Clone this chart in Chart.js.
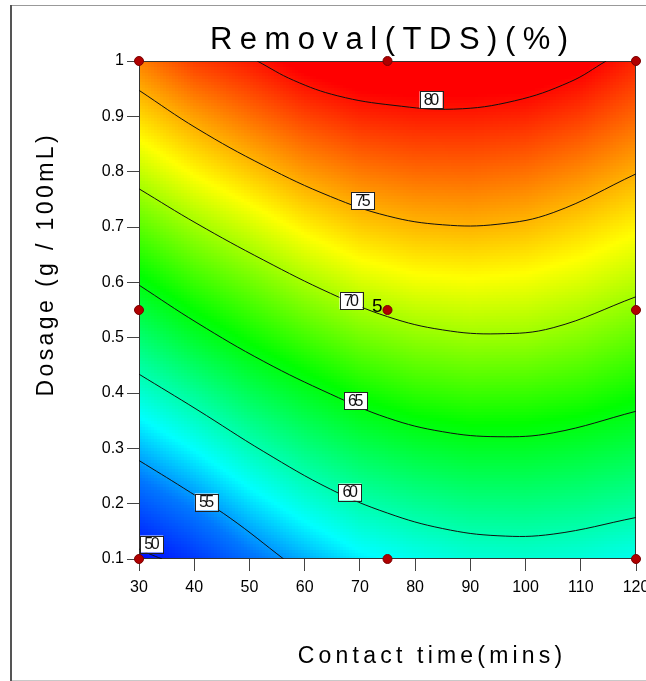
<!DOCTYPE html>
<html>
<head>
<meta charset="utf-8">
<script src="https://cdn.jsdelivr.net/npm/chart.js@4.4.1/dist/chart.umd.min.js"></script>
<style>
  body { margin: 0; background: #fff; }
</style>
</head>
<body>
<canvas id="tdsChart" width="646" height="681"></canvas>
<script>
// grid the surface was read on: contact time (mins) x dosage (g/100mL)
const timeGrid = [30, 40, 50, 60, 70, 80, 90, 100, 110, 120];
const dosageGrid = [0.1, 0.2, 0.3, 0.4, 0.5, 0.6, 0.7, 0.8, 0.9, 1.0];
// removal (%), one row per dosage, bottom row first
const removalGrid = [
  [49.4, 51.3, 53.6, 55.4, 57.1, 58.0, 58.7, 58.9, 58.6, 58.0],
  [52.6, 54.4, 56.6, 58.5, 60.0, 60.9, 61.5, 61.6, 61.3, 60.7],
  [55.7, 57.6, 59.7, 61.5, 62.9, 63.8, 64.3, 64.3, 63.9, 63.3],
  [58.9, 60.8, 62.8, 64.4, 65.8, 66.7, 67.1, 67.0, 66.6, 65.8],
  [62.0, 64.1, 65.8, 67.3, 68.6, 69.4, 69.8, 69.7, 69.1, 68.2],
  [65.1, 67.0, 68.5, 70.1, 71.4, 72.1, 72.3, 72.1, 71.5, 70.6],
  [68.0, 69.8, 71.3, 72.9, 74.1, 74.7, 74.9, 74.6, 73.8, 72.8],
  [70.9, 72.7, 74.2, 75.7, 76.7, 77.2, 77.3, 77.0, 76.2, 75.1],
  [73.7, 75.5, 77.0, 78.4, 79.3, 79.6, 79.6, 79.4, 78.6, 77.3],
  [76.5, 78.6, 79.7, 81.1, 81.9, 82.1, 82.0, 81.9, 81.0, 79.4]
];

const xTickLabels = ['30', '40', '50', '60', '70', '80', '90', '100', '110', '120'];
const yTickLabels = ['0.1', '0.2', '0.3', '0.4', '0.5', '0.6', '0.7', '0.8', '0.9', '1'];

// contour lines, [time, dosage] points
const contourLevels = [50, 55, 60, 65, 70, 75, 80];
const contour50 = [[30, 0.118], [31.7, 0.11], [34.2, 0.1]];
const contour55 = [[30, 0.278], [38.1, 0.228], [46.5, 0.174], [56.2, 0.1]];
const contour60 = [[30, 0.434], [40.5, 0.370], [52.6, 0.294], [64.7, 0.226], [75, 0.183], [85, 0.155], [95, 0.142], [105, 0.145], [120, 0.175]];
const contour65 = [[30, 0.595], [40.5, 0.527], [52.6, 0.457], [64.7, 0.398], [75, 0.355], [85, 0.330], [95, 0.321], [105, 0.328], [120, 0.367]];
const contour70 = [[30, 0.769], [40.5, 0.706], [52.6, 0.640], [64.7, 0.580], [75, 0.538], [85, 0.514], [95, 0.507], [105, 0.518], [120, 0.574]];
const contour75 = [[30, 0.947], [40.5, 0.878], [52.6, 0.811], [64.7, 0.755], [75, 0.720], [85, 0.704], [95, 0.705], [105, 0.726], [120, 0.796]];
const contour80 = [[51.4, 1.0], [58, 0.965], [66, 0.937], [76, 0.920], [87, 0.913], [98, 0.928], [108, 0.962], [114.6, 1.0]];
const contourLines = [contour50, contour55, contour60, contour65, contour70, contour75, contour80];

// where each level's label box sits
const labelTime = [32.3, 42.2, 68.2, 69.2, 68.4, 70.5, 82.9];
const labelDosage = [0.127, 0.203, 0.221, 0.386, 0.567, 0.748, 0.930];

// design points (red dots), centre point run 5 times
const designTime = [30, 75, 120, 30, 75, 120, 30, 75, 120];
const designDosage = [0.1, 0.1, 0.1, 0.55, 0.55, 0.55, 1, 1, 1];
const centreTime = 75;
const centreDosage = 0.55;
const centreRuns = 5;

const FONT = '"Liberation Sans", Arial, sans-serif';

// blue -> cyan -> green -> yellow -> red
const colourStops = [
  [49, [0, 0, 255]],
  [54, [0, 120, 255]],
  [57.5, [0, 255, 255]],
  [65.5, [0, 255, 0]],
  [72.5, [255, 255, 0]],
  [80.5, [255, 0, 0]]
];

function colourFor(v) {
  if (v <= colourStops[0][0]) return colourStops[0][1];
  for (let i = 1; i < colourStops.length; i++) {
    if (v <= colourStops[i][0]) {
      const [v0, c0] = colourStops[i - 1];
      const [v1, c1] = colourStops[i];
      const f = (v - v0) / (v1 - v0);
      return [0, 1, 2].map(k => Math.round(c0[k] + (c1[k] - c0[k]) * f));
    }
  }
  return colourStops[colourStops.length - 1][1];
}

function findCell(arr, v) {
  let i = 0;
  while (i < arr.length - 2 && v > arr[i + 1]) i++;
  const f = Math.min(1, Math.max(0, (v - arr[i]) / (arr[i + 1] - arr[i])));
  return [i, f];
}

function removalAt(t, d) {
  const [i, fx] = findCell(timeGrid, t);
  const [j, fy] = findCell(dosageGrid, d);
  const a = removalGrid[j][i], b = removalGrid[j][i + 1];
  const c = removalGrid[j + 1][i], e = removalGrid[j + 1][i + 1];
  return (a * (1 - fx) + b * fx) * (1 - fy) + (c * (1 - fx) + e * fx) * fy;
}

const pagePlugin = {
  id: 'page',
  beforeDraw(chart) {
    const ctx = chart.ctx;
    ctx.save();
    ctx.fillStyle = '#fff';
    ctx.fillRect(0, 0, chart.width, chart.height);
    ctx.strokeStyle = '#999';
    ctx.lineWidth = 1;
    ctx.beginPath();
    ctx.moveTo(10, 5.5); ctx.lineTo(chart.width, 5.5);
    ctx.stroke();
    ctx.strokeStyle = '#c8c8c8';
    ctx.beginPath();
    ctx.moveTo(10, 680.5); ctx.lineTo(chart.width, 680.5);
    ctx.stroke();
    ctx.strokeStyle = '#555';
    ctx.lineWidth = 2;
    ctx.beginPath();
    ctx.moveTo(11, 5); ctx.lineTo(11, 681);
    ctx.stroke();
    ctx.restore();
  },
  afterDraw(chart) {
    const ctx = chart.ctx;
    const spaced = (text, cx, base, size, gap) => {
      ctx.font = size + 'px ' + FONT;
      ctx.letterSpacing = '0px';
      const w = ctx.measureText(text).width + gap * (text.length - 1);
      ctx.letterSpacing = gap + 'px';
      ctx.textAlign = 'left';
      ctx.textBaseline = 'alphabetic';
      ctx.fillText(text, cx - w / 2, base);
    };
    ctx.save();
    ctx.fillStyle = '#000';
    spaced('Removal(TDS)(%)', 389, 49, 31, 7.5);
    spaced('Contact time(mins)', 430, 663, 23, 4.2);
    ctx.translate(53, 266);
    ctx.rotate(-Math.PI / 2);
    spaced('Dosage (g / 100mL)', 0, 0, 23, 3.4);
    ctx.restore();
  }
};

const surfacePlugin = {
  id: 'surface',
  beforeDatasetsDraw(chart) {
    const { ctx, chartArea: a, scales: { x, y } } = chart;
    const cell = 3;
    const cols = Math.ceil((a.right - a.left) / cell);
    const rows = Math.ceil((a.bottom - a.top) / cell);
    const off = document.createElement('canvas');
    off.width = cols;
    off.height = rows;
    const octx = off.getContext('2d');
    const img = octx.createImageData(cols, rows);
    for (let r = 0; r < rows; r++) {
      const d = y.getValueForPixel(a.top + (r + 0.5) * cell);
      for (let c = 0; c < cols; c++) {
        const t = x.getValueForPixel(a.left + (c + 0.5) * cell);
        const rgb = colourFor(removalAt(t, d));
        const k = (r * cols + c) * 4;
        img.data[k] = rgb[0];
        img.data[k + 1] = rgb[1];
        img.data[k + 2] = rgb[2];
        img.data[k + 3] = 255;
      }
    }
    octx.putImageData(img, 0, 0);
    ctx.save();
    ctx.beginPath();
    ctx.rect(a.left, a.top, a.right - a.left, a.bottom - a.top);
    ctx.clip();
    ctx.imageSmoothingEnabled = false;
    ctx.drawImage(off, a.left, a.top, cols * cell, rows * cell);
    ctx.restore();
    ctx.save();
    ctx.strokeStyle = '#333';
    ctx.lineWidth = 1;
    ctx.strokeRect(a.left + 0.5, a.top + 0.5, a.right - a.left - 1, a.bottom - a.top - 1);
    ctx.restore();
  },
  afterDatasetsDraw(chart) {
    const { ctx, scales: { x, y } } = chart;
    ctx.save();
    ctx.font = '16px ' + FONT;
    ctx.letterSpacing = '-2.5px';
    ctx.textAlign = 'center';
    ctx.textBaseline = 'middle';
    contourLevels.forEach((lvl, i) => {
      const px = x.getPixelForValue(labelTime[i]);
      const py = y.getPixelForValue(labelDosage[i]);
      ctx.fillStyle = '#fff';
      ctx.fillRect(px - 11.5, py - 8.5, 23, 17);
      ctx.strokeStyle = '#222';
      ctx.lineWidth = 1;
      ctx.strokeRect(Math.round(px - 11.5) + 0.5, Math.round(py - 8.5) + 0.5, 23, 17);
      ctx.fillStyle = '#111';
      ctx.fillText(String(lvl), px - 1, py + 1);
    });
    ctx.letterSpacing = '0px';
    ctx.font = '19px ' + FONT;
    ctx.textAlign = 'right';
    ctx.fillStyle = '#000';
    ctx.fillText(String(centreRuns), x.getPixelForValue(centreTime) - 5, y.getPixelForValue(centreDosage) - 3);
    ctx.restore();
  }
};

const designPoints = designTime.map((t, i) => ({ x: t, y: designDosage[i] }));

const datasets = [{
  label: 'Design points',
  data: designPoints,
  pointRadius: 4.5,
  pointBackgroundColor: '#b00000',
  pointBorderColor: '#7a0000',
  pointBorderWidth: 1,
  clip: false
}];
contourLines.forEach((pts, i) => {
  datasets.push({
    label: 'Removal ' + contourLevels[i],
    data: pts.map(p => ({ x: p[0], y: p[1] })),
    showLine: true,
    borderColor: '#111',
    borderWidth: 1,
    pointRadius: 0,
    tension: 0.4
  });
});

const tickFont = { family: FONT, size: 16 };

new Chart(document.getElementById('tdsChart').getContext('2d'), {
  type: 'scatter',
  data: { datasets: datasets },
  options: {
    responsive: false,
    animation: false,
    layout: { padding: { top: 61, right: 10, left: 0, bottom: 0 } },
    plugins: {
      legend: { display: false },
      tooltip: { enabled: false },
      title: { display: false }
    },
    scales: {
      x: {
        type: 'linear',
        min: 30,
        max: 120,
        ticks: {
          stepSize: 10,
          autoSkip: false,
          maxRotation: 0,
          color: '#000',
          font: tickFont,
          padding: 7,
          callback: v => xTickLabels.find(l => Math.abs(parseFloat(l) - v) < 1e-6) || ''
        },
        grid: { drawOnChartArea: false, tickLength: 12, tickColor: '#444' },
        border: { display: false },
        afterFit(s) { s.height = 122; s.paddingLeft = 0; s.paddingRight = 0; }
      },
      y: {
        type: 'linear',
        min: 0.1,
        max: 1,
        ticks: {
          stepSize: 0.1,
          autoSkip: false,
          color: '#000',
          font: tickFont,
          padding: 3,
          callback: v => yTickLabels.find(l => Math.abs(parseFloat(l) - v) < 1e-6) || ''
        },
        grid: { drawOnChartArea: false, tickLength: 12, tickColor: '#444' },
        border: { display: false },
        afterFit(s) { s.width = 139; s.paddingTop = 0; s.paddingBottom = 0; }
      }
    }
  },
  plugins: [pagePlugin, surfacePlugin]
});
</script>
</body>
</html>
